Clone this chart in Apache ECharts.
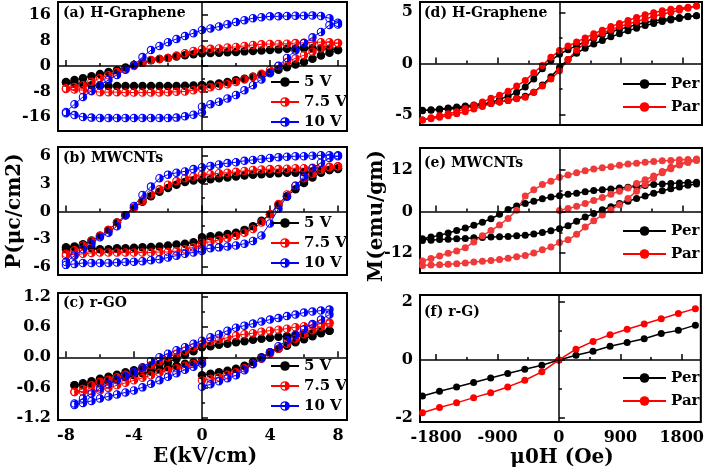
<!DOCTYPE html>
<html><head><meta charset="utf-8">
<script src="https://cdn.jsdelivr.net/npm/echarts@6/dist/echarts.min.js"></script>
<style>html,body{margin:0;padding:0;background:#fff}#c{width:707px;height:472px}</style>
</head><body><div id="c"></div>
<script>
// ---------- Panel (a) H-Graphene, P-E ----------
const aE_vir = [0,0.5,1,1.5,2,2.5,3,3.5,4,4.5,5,5.5,6,6.5,7,7.5,8];
const aE_up = [8,7.5,7,6.5,6,5.5,5,4.5,4,3.5,3,2.5,2,1.5,1,0.5,0,-0.5,-1,-1.5,-2,-2.5,-3,-3.5,-4,-4.5,-5,-5.5,-6,-6.5,-7,-7.5,-8];
const aE_lo = [-8,-7.5,-7,-6.5,-6,-5.5,-5,-4.5,-4,-3.5,-3,-2.5,-2,-1.5,-1,-0.5,0];
const a5_vir = [-6.0,-5.8,-5.5,-5.0,-4.5,-4.0,-3.4,-2.7,-2.0,-1.2,-0.4,0.5,1.3,2.3,3.3,4.2,5.0];
const a5_up = [5.0,5.4,5.6,5.6,5.6,5.5,5.4,5.2,5.0,4.9,4.7,4.6,4.4,4.3,4.2,4.1,4.0,3.7,3.4,3.0,2.5,2.2,1.8,1.1,0.3,-0.5,-1.3,-1.9,-2.5,-3.2,-3.8,-4.4,-5.0];
const a5_lo = [-5.2,-5.5,-5.7,-6.0,-6.2,-6.3,-6.3,-6.3,-6.3,-6.3,-6.3,-6.3,-6.3,-6.3,-6.2,-6.1,-6.0];
const a75_vir = [-7.0,-6.7,-6.3,-5.7,-5.0,-4.2,-3.4,-2.4,-1.3,0.0,1.3,2.4,3.4,4.5,5.6,6.5,7.2];
const a75_up = [7.2,7.5,7.5,7.4,7.3,7.2,7.0,6.9,6.9,6.8,6.6,6.3,6.0,5.8,5.5,5.4,5.3,4.7,4.0,3.3,2.5,2.2,1.9,1.0,0.0,-1.0,-1.9,-2.9,-3.8,-4.9,-6.0,-6.6,-7.0];
const a75_lo = [-7.2,-7.4,-7.6,-7.9,-8.2,-8.2,-8.2,-8.3,-8.3,-8.3,-8.3,-8.3,-8.2,-8.1,-8.0,-7.6,-7.2];
const a10_vir = [-12.8,-12.0,-11.2,-10.2,-9.1,-7.6,-6.0,-4.2,-2.3,0.1,2.5,4.9,7.2,9.0,10.7,12.9,13.6];
const a10_up = [13.0,15.0,15.7,15.9,15.8,15.8,15.7,15.6,15.6,15.3,15.0,14.4,13.8,13.1,12.4,11.8,11.3,10.3,9.4,8.5,7.5,6.3,5.0,2.8,0.3,-1.2,-2.8,-4.4,-6.0,-7.8,-9.7,-12.0,-14.4];
const a10_lo = [-14.8,-15.4,-16.0,-16.2,-16.3,-16.3,-16.3,-16.3,-16.3,-16.3,-16.3,-16.3,-16.3,-16.2,-15.8,-15.3,-14.6];

// ---------- Panel (b) MWCNTs, P-E ----------
const bE_vir = [0,0.5,1,1.5,2,2.5,3,3.5,4,4.5,5,5.5,6,6.5,7,7.5,8];
const bE_up = [8,7.5,7,6.5,6,5.5,5,4.5,4,3.5,3,2.5,2,1.5,1,0.5,0,-0.5,-1,-1.5,-2,-2.5,-3,-3.5,-4,-4.5,-5,-5.5,-6,-6.5,-7,-7.5,-8];
const bE_lo = [-8,-7.5,-7,-6.5,-6,-5.5,-5,-4.5,-4,-3.5,-3,-2.5,-2,-1.5,-1,-0.5,0];
const b5_vir = [-2.8,-2.7,-2.6,-2.45,-2.3,-2.0,-1.6,-1.0,-0.3,0.7,1.65,2.4,3.1,3.7,4.2,4.5,4.7];
const b5_up = [4.6,4.5,4.4,4.3,4.25,4.2,4.2,4.15,4.1,4.05,4.0,3.9,3.8,3.7,3.6,3.5,3.45,3.35,3.2,2.9,2.55,2.15,1.65,1.05,0.4,-0.4,-1.2,-2.0,-2.65,-3.15,-3.55,-3.8,-3.9];
const b5_lo = [-4.1,-3.9,-3.7,-4.0,-4.1,-4.1,-4.0,-4.0,-3.95,-3.9,-3.85,-3.8,-3.7,-3.6,-3.5,-3.35,-3.2];
const b75_vir = [-3.4,-3.3,-3.1,-2.9,-2.65,-2.3,-1.9,-1.2,-0.3,0.8,1.85,2.8,3.6,4.1,4.5,4.8,4.9];
const b75_up = [4.9,4.85,4.8,4.75,4.7,4.7,4.65,4.6,4.6,4.55,4.5,4.4,4.3,4.2,4.15,4.05,4.0,3.8,3.6,3.3,2.9,2.4,1.85,1.15,0.4,-0.4,-1.2,-2.0,-2.65,-3.2,-3.7,-4.2,-4.6];
const b75_lo = [-4.8,-4.7,-4.6,-4.5,-4.45,-4.45,-4.45,-4.45,-4.45,-4.45,-4.45,-4.4,-4.4,-4.3,-4.1,-3.9,-3.7];
const b10_vir = [-4.1,-4.0,-3.9,-3.8,-3.7,-3.5,-3.2,-2.6,-1.3,0.3,1.6,2.8,3.8,4.7,5.3,5.8,6.0];
const b10_up = [6.1,6.1,6.1,6.05,6.0,6.0,5.95,5.9,5.8,5.7,5.6,5.5,5.35,5.25,5.1,4.95,4.8,4.6,4.35,4.2,4.0,3.6,2.7,1.8,0.6,-0.4,-1.6,-2.3,-2.8,-3.5,-4.1,-4.8,-5.5];
const b10_lo = [-5.8,-5.7,-5.6,-5.6,-5.6,-5.6,-5.55,-5.5,-5.45,-5.4,-5.3,-5.2,-5.0,-4.8,-4.6,-4.45,-4.3];

// ---------- Panel (c) r-GO, P-E ----------
const cE_vir = [0,0.5,1,1.5,2,2.5,3,3.5,4,4.5,5,5.5,6,6.5,7,7.5];
const cE_up = [7.5,7,6.5,6,5.5,5,4.5,4,3.5,3,2.5,2,1.5,1,0.5,0,-0.5,-1,-1.5,-2,-2.5,-3,-3.5,-4,-4.5,-5,-5.5,-6,-6.5,-7,-7.5];
const cE_lo = [-7.5,-7,-6.5,-6,-5.5,-5,-4.5,-4,-3.5,-3,-2.5,-2,-1.5,-1,-0.5,0];
const c5_vir = [-0.36,-0.33,-0.30,-0.27,-0.23,-0.17,-0.09,0.0,0.1,0.17,0.23,0.30,0.36,0.42,0.48,0.53];
const c5_up = [0.53,0.51,0.48,0.46,0.44,0.42,0.41,0.39,0.37,0.35,0.32,0.30,0.27,0.25,0.22,0.2,0.12,0.05,-0.03,-0.1,-0.14,-0.18,-0.22,-0.26,-0.30,-0.35,-0.39,-0.43,-0.48,-0.52,-0.56];
const c5_lo = [-0.56,-0.55,-0.53,-0.52,-0.48,-0.44,-0.40,-0.36,-0.32,-0.28,-0.24,-0.2,-0.17,-0.13,-0.1,-0.07];
const c75_vir = [-0.46,-0.43,-0.40,-0.35,-0.30,-0.22,-0.13,-0.03,0.07,0.17,0.27,0.37,0.46,0.54,0.61,0.67];
const c75_up = [0.69,0.67,0.64,0.62,0.6,0.57,0.55,0.53,0.51,0.48,0.46,0.43,0.39,0.35,0.31,0.26,0.2,0.13,0.07,0.0,-0.08,-0.16,-0.23,-0.3,-0.35,-0.4,-0.45,-0.49,-0.56,-0.63,-0.69];
const c75_lo = [-0.69,-0.68,-0.67,-0.66,-0.61,-0.56,-0.51,-0.46,-0.41,-0.36,-0.31,-0.26,-0.22,-0.17,-0.13,-0.1];
const c10_vir = [-0.59,-0.54,-0.48,-0.42,-0.36,-0.26,-0.14,-0.02,0.1,0.22,0.34,0.45,0.56,0.66,0.75,0.85];
const c10_up = [0.95,0.93,0.91,0.89,0.85,0.82,0.78,0.75,0.71,0.67,0.63,0.59,0.53,0.46,0.4,0.33,0.27,0.2,0.14,0.07,0.0,-0.08,-0.2,-0.3,-0.38,-0.46,-0.54,-0.62,-0.72,-0.82,-0.92];
const c10_lo = [-0.95,-0.91,-0.87,-0.82,-0.78,-0.74,-0.7,-0.66,-0.6,-0.53,-0.46,-0.39,-0.32,-0.25,-0.19,-0.13];

// ---------- Panel (d) H-Graphene, M-H ----------
const dH_down = [2000,1875,1750,1625,1500,1375,1250,1125,1000,875,750,625,500,375,250,125,0,-125,-250,-375,-500,-625,-750,-875,-1000,-1125,-1250,-1375,-1500,-1625,-1750,-1875,-2000];
const dH_up = [-2000,-1875,-1750,-1625,-1500,-1375,-1250,-1125,-1000,-875,-750,-625,-500,-375,-250,-125,0,125,250,375,500,625,750,875,1000,1125,1250,1375,1500,1625,1750,1875,2000];
const dPer_down = [4.66,4.6,4.5,4.4,4.3,4.15,4.0,3.8,3.55,3.35,3.1,2.8,2.45,2.1,1.75,1.35,0.9,0.3,-0.5,-1.5,-2.3,-2.8,-3.2,-3.5,-3.8,-3.95,-4.05,-4.15,-4.25,-4.35,-4.45,-4.5,-4.55];
const dPer_up = [-4.6,-4.55,-4.5,-4.45,-4.4,-4.3,-4.2,-4.05,-3.9,-3.75,-3.6,-3.4,-3.2,-2.8,-2.1,-1.3,-0.4,0.4,1.0,1.5,1.9,2.25,2.6,2.9,3.2,3.45,3.7,3.9,4.1,4.25,4.4,4.55,4.66];
const dPar_down = [5.6,5.5,5.4,5.3,5.15,4.95,4.75,4.5,4.2,3.9,3.6,3.25,2.9,2.5,2.1,1.7,1.26,0.6,-0.2,-0.9,-1.65,-2.2,-2.7,-3.1,-3.4,-3.75,-4.1,-4.4,-4.7,-4.9,-5.1,-5.3,-5.5];
const dPar_up = [-5.5,-5.4,-5.25,-5.1,-4.9,-4.7,-4.45,-4.2,-3.9,-3.75,-3.6,-3.45,-3.3,-2.8,-2.2,-1.5,-0.7,0.4,1.3,2.0,2.55,2.95,3.3,3.6,3.85,4.1,4.35,4.6,4.8,5.0,5.2,5.4,5.6];

// ---------- Panel (e) MWCNTs, M-H ----------
const eH_vir = [0,125,250,375,500,625,750,875,1000,1125,1250,1375,1500,1625,1750,1875,2000];
const eH_down = [2000,1875,1750,1625,1500,1375,1250,1125,1000,875,750,625,500,375,250,125,0,-125,-250,-375,-500,-625,-750,-875,-1000,-1125,-1250,-1375,-1500,-1625,-1750,-1875,-2000];
const eH_up = [-2000,-1875,-1750,-1625,-1500,-1375,-1250,-1125,-1000,-875,-750,-625,-500,-375,-250,-125,0,125,250,375,500,625,750,875,1000,1125,1250,1375,1500,1625,1750,1875,2000];
const ePer_down = [8.5,8.4,8.3,8.15,8.0,7.8,7.55,7.3,7.0,6.8,6.55,6.3,6.1,5.7,5.3,5.0,4.6,4.2,3.7,3.0,2.3,1.6,0.6,-0.8,-2.1,-3.1,-4.0,-4.8,-5.5,-6.2,-6.9,-7.4,-7.9];
const ePer_up = [-8.4,-8.3,-8.1,-8.0,-7.9,-7.8,-7.6,-7.5,-7.4,-7.3,-7.2,-7.0,-6.9,-6.5,-6.1,-5.6,-5.0,-4.1,-2.8,-1.6,-0.6,0.5,1.4,2.3,3.0,3.8,4.5,5.3,6.0,6.6,7.1,7.6,8.0];
const ePar_vir = [0.3,0.9,1.5,2.3,3.2,4.1,5.0,5.9,6.8,8.1,9.2,10.3,11.2,12.4,13.5,14.2,14.8];
const ePar_down = [15.2,15.1,15.0,14.8,14.7,14.5,14.3,14.0,13.8,13.4,13.0,12.7,12.3,11.8,11.2,10.6,9.9,8.8,7.8,6.3,4.5,0.4,-2.0,-3.9,-5.5,-7.0,-8.8,-10.5,-11.4,-12.1,-12.9,-13.6,-14.3];
const ePar_up = [-15.6,-15.5,-15.4,-15.3,-15.1,-14.9,-14.6,-14.4,-14.2,-13.9,-13.5,-13.1,-12.7,-12.0,-11.1,-10.3,-9.0,-8.2,-6.6,-4.5,-2.7,-1.0,0.5,2.0,3.8,5.9,7.8,9.7,11.6,12.8,13.8,14.5,15.0];

// ---------- Panel (f) r-G, M-H ----------
const fH = [-2000,-1750,-1500,-1250,-1000,-750,-500,-250,0,250,500,750,1000,1250,1500,1750,2000];
const fPer = [-1.24,-1.08,-0.93,-0.78,-0.62,-0.47,-0.32,-0.18,0.0,0.16,0.3,0.47,0.6,0.73,0.91,1.02,1.2];
const fPar = [-1.82,-1.64,-1.48,-1.3,-1.13,-0.93,-0.7,-0.41,0.0,0.37,0.64,0.87,1.06,1.24,1.42,1.6,1.77];

// ---------- tick labels ----------
const xTicksE = [-8,-4,0,4,8];
const xMinorE = [-6,-2,2,6];
const xTicksH = [-1800,-900,0,900,1800];
const xMinorH = [-1350,-450,450,1350];
const yTicks = [[-16,-8,0,8,16],[-6,-3,0,3,6],[-1.2,-0.6,0,0.6,1.2],[-5,0,5],[-12,0,12],[-2,0,2]];
const yMinor = [[-12,-4,4,12],[-4.5,-1.5,1.5,4.5],[-0.9,-0.3,0.3,0.9],[-2.5,2.5],[-6,6],[-1,1]];
const panelLabels = ['(a) H-Graphene','(b) MWCNTs','(c) r-GO','(d) H-Graphene','(e) MWCNTs','(f) r-G)'];
const namesPE = ['5 V','7.5 V','10 V'];
const namesMH = ['Per','Par'];

// ---------- build ----------
const FONT = 'DejaVu Serif';
const HALF = 'path://M10,0A10,10,0,1,1,10,20A10,10,0,1,1,10,0ZM10,2.5A7.5,7.5,0,1,0,10,17.5A7.5,7.5,0,1,0,10,2.5ZM10,2.5A7.5,7.5,0,0,1,10,17.5Z';
function zip(xs, ys){ return xs.map((x,i)=>[x, ys[i]]); }

const grids = [
  {left:58, top:2, width:289, height:129},
  {left:58, top:147, width:289, height:128},
  {left:58, top:293, width:289, height:127},
  {left:420, top:2, width:282, height:123},
  {left:420, top:148, width:282, height:125},
  {left:420, top:295, width:282, height:127}
];
const yRange = [[-20.4,20.1],[-6.9,7.0],[-1.25,1.28],[-6,6],[-17.8,18.4],[-2.14,2.24]];
const xRangeE = [-8.47,8.53], xRangeH = [-2036,2080];

const xAxis = [], yAxis = [], series = [];
grids.forEach((g,i)=>{
  const left = i<3;
  const xr = left ? xRangeE : xRangeH;
  const showXLabel = (i===2 || i===5);
  xAxis.push({type:'value', gridIndex:i, min:xr[0], max:xr[1], position:'bottom',
    axisLine:{show:false}, splitLine:{show:false},
    axisTick:{show:true, inside:true, length:6, customValues:left?xTicksE:xTicksH, lineStyle:{color:'#000', width:1.5}},
    axisLabel:{show:showXLabel, customValues: left?xTicksE:xTicksH, color:'#000', fontFamily:FONT, fontWeight:'bold', fontSize:16, margin:8,
      formatter: v => String(v)}});
  xAxis.push({type:'value', gridIndex:i, min:xr[0], max:xr[1], position:'bottom',
    axisLine:{show:false}, splitLine:{show:false},
    axisTick:{show:true, inside:true, length:3, customValues:left?xMinorE:xMinorH, lineStyle:{color:'#000', width:1.5}},
    axisLabel:{show:false}});
  yAxis.push({type:'value', gridIndex:i, min:yRange[i][0], max:yRange[i][1], position:'left',
    axisLine:{show:false}, splitLine:{show:false},
    axisTick:{show:true, inside:true, length:6, customValues:yTicks[i], lineStyle:{color:'#000', width:1.5}},
    axisLabel:{show:true, customValues:yTicks[i], color:'#000', fontFamily:FONT, fontWeight:'bold', fontSize:16, margin:7,
      formatter: v => (i===2 ? Number(v).toFixed(1) : String(v))}});
  yAxis.push({type:'value', gridIndex:i, min:yRange[i][0], max:yRange[i][1], position:'left',
    axisLine:{show:false}, splitLine:{show:false},
    axisTick:{show:true, inside:true, length:3, customValues:yMinor[i], lineStyle:{color:'#000', width:1.5}},
    axisLabel:{show:false}});
});

function zeroLines(){
  return {silent:true, symbol:'none', label:{show:false}, animation:false,
    lineStyle:{color:'#000', width:1.5, type:'solid'}, emphasis:{disabled:true},
    data:[{xAxis:0},{yAxis:0}]};
}
function peSeries(gi, name, data, color, sym, withZero){
  const s = {type:'line', name, xAxisIndex:gi*2, yAxisIndex:gi*2, data,
    symbol:sym, symbolSize:8.5, showAllSymbol:true,
    itemStyle:{color:color, borderColor:color, borderWidth:0},
    lineStyle:{color:color, width:1}, z:3};
  if (withZero) s.markLine = zeroLines();
  return s;
}
function mhSeries(gi, name, data, color, withZero){
  const s = {type:'line', name, xAxisIndex:gi*2, yAxisIndex:gi*2, data,
    symbol:'circle', symbolSize:7, showAllSymbol:true,
    itemStyle:{color:color}, lineStyle:{color:color, width:1.5}, z:3};
  if (withZero) s.markLine = zeroLines();
  return s;
}
const RED='#ff0000', BLUE='#0000ff', BLK='#000000';
series.push(peSeries(0,'5 V',zip(aE_vir,a5_vir).concat(zip(aE_up,a5_up),zip(aE_lo,a5_lo)),BLK,'circle',true));
series.push(peSeries(0,'7.5 V',zip(aE_vir,a75_vir).concat(zip(aE_up,a75_up),zip(aE_lo,a75_lo)),RED,HALF,false));
series.push(peSeries(0,'10 V',zip(aE_vir,a10_vir).concat(zip(aE_up,a10_up),zip(aE_lo,a10_lo)),BLUE,HALF,false));
series.push(peSeries(1,'5 V',zip(bE_vir,b5_vir).concat(zip(bE_up,b5_up),zip(bE_lo,b5_lo)),BLK,'circle',true));
series.push(peSeries(1,'7.5 V',zip(bE_vir,b75_vir).concat(zip(bE_up,b75_up),zip(bE_lo,b75_lo)),RED,HALF,false));
series.push(peSeries(1,'10 V',zip(bE_vir,b10_vir).concat(zip(bE_up,b10_up),zip(bE_lo,b10_lo)),BLUE,HALF,false));
series.push(peSeries(2,'5 V',zip(cE_vir,c5_vir).concat(zip(cE_up,c5_up),zip(cE_lo,c5_lo)),BLK,'circle',true));
series.push(peSeries(2,'7.5 V',zip(cE_vir,c75_vir).concat(zip(cE_up,c75_up),zip(cE_lo,c75_lo)),RED,HALF,false));
series.push(peSeries(2,'10 V',zip(cE_vir,c10_vir).concat(zip(cE_up,c10_up),zip(cE_lo,c10_lo)),BLUE,HALF,false));
series.push(mhSeries(3,'Per',zip(dH_down,dPer_down).concat(zip(dH_up,dPer_up)),BLK,true));
series.push(mhSeries(3,'Par',zip(dH_down,dPar_down).concat(zip(dH_up,dPar_up)),RED,false));
series.push(mhSeries(4,'Per',zip(eH_down,ePer_down).concat(zip(eH_up,ePer_up)),BLK,true));
series.push(mhSeries(4,'Par',zip(eH_vir,ePar_vir).concat(zip(eH_down,ePar_down),zip(eH_up,ePar_up)),'#f03a3a',false));
series.push(mhSeries(5,'Per',zip(fH,fPer),BLK,true));
series.push(mhSeries(5,'Par',zip(fH,fPar),RED,false));

const legendTops = [73,214,357,74,221,368];
const legend = legendTops.map((t,i)=>{
  const left = i<3;
  return {show:true, orient:'vertical', left: left?270:622, top:t,
    data: left?namesPE:namesMH, selectedMode:false,
    itemWidth: left?28:43, itemHeight: 12, itemGap: left?2:3,
    lineStyle:{width:2},
    textStyle:{color:'#000', fontFamily:FONT, fontWeight:'bold', fontSize: 15, lineHeight: left?18:20, padding:[0,0,0,0]},
    padding:0};
});

const graphic = [];
const labelPos = [[63,6],[63,151],[63,296],[424,6],[424,156],[424,305]];
panelLabels.forEach((t,i)=>{
  graphic.push({type:'text', left:labelPos[i][0], top:labelPos[i][1], z:10,
    style:{text:t, fill:'#000', font:'bold 14px "'+FONT+'"'}});
});
graphic.push({type:'text', x:15, y:211, rotation:Math.PI/2, z:10,
  style:{text:'P(μc/cm2)', fill:'#000', font:'bold 20px "'+FONT+'"', textAlign:'center', textVerticalAlign:'middle'}});
graphic.push({type:'text', x:377, y:216, rotation:Math.PI/2, z:10,
  style:{text:'M(emu/gm)', fill:'#000', font:'bold 20px "'+FONT+'"', textAlign:'center', textVerticalAlign:'middle'}});
graphic.push({type:'text', x:205, y:457, z:10,
  style:{text:'E(kV/cm)', fill:'#000', font:'bold 20px "'+FONT+'"', textAlign:'center', textVerticalAlign:'middle'}});
graphic.push({type:'text', x:562, y:458, z:10,
  style:{text:'μ0H (Oe)', fill:'#000', font:'bold 20px "'+FONT+'"', textAlign:'center', textVerticalAlign:'middle'}});

const chart = echarts.init(document.getElementById('c'), null, {renderer:'canvas'});
chart.setOption({
  animation:false, backgroundColor:'#fff',
  grid: grids.map(g=>Object.assign({show:true, borderColor:'#000', borderWidth:2, backgroundColor:'transparent', containLabel:false}, g)),
  xAxis, yAxis, series, legend, graphic
});
</script></body></html>
